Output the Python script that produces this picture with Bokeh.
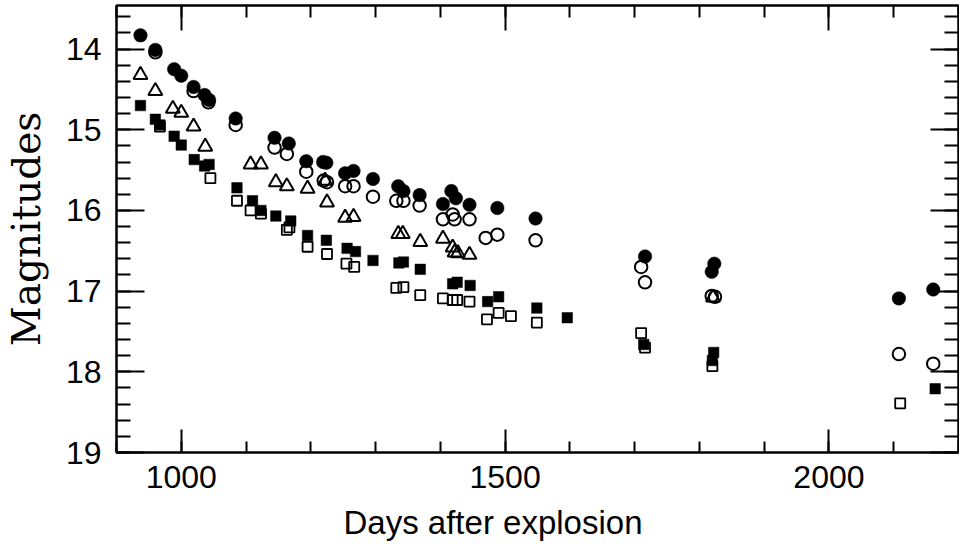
import numpy as np
from bokeh.plotting import figure
from bokeh.models import (FixedTicker, LinearAxis, Range1d, Title,
                          CustomLabelingPolicy, CustomJSTickFormatter)
from bokeh.embed import file_html
from bokeh.resources import INLINE

# ---- data ----
# filled circles
fc_day = [937, 960, 989, 1000, 1019, 1036, 1043, 1084, 1144, 1166, 1193, 1219, 1224,
          1253, 1266, 1296, 1335, 1343, 1368, 1404, 1417, 1424, 1445, 1488, 1547,
          1716, 1819, 1823, 2108, 2161]
fc_mag = [13.83, 14.01, 14.25, 14.33, 14.47, 14.57, 14.63, 14.86, 15.10, 15.17, 15.39, 15.40, 15.41,
          15.54, 15.51, 15.61, 15.70, 15.76, 15.81, 15.92, 15.76, 15.85, 15.93, 15.97, 16.10,
          16.57, 16.76, 16.66, 17.09, 16.98]
# open circles
oc_day = [960, 1019, 1042, 1084, 1144, 1163, 1193, 1220, 1225, 1253, 1266, 1296, 1332, 1343,
          1368, 1404, 1419, 1422, 1445, 1470, 1488, 1547, 1710, 1716, 1819, 1824, 2108, 2161]
oc_mag = [14.04, 14.52, 14.66, 14.94, 15.22, 15.30, 15.52, 15.63, 15.65, 15.70, 15.70, 15.83, 15.88, 15.88,
          15.94, 16.11, 16.05, 16.11, 16.11, 16.34, 16.30, 16.37, 16.70, 16.89, 17.06, 17.07, 17.78, 17.90]
# open triangles
ot_day = [937, 960, 987, 1000, 1019, 1037, 1107, 1123, 1146, 1163, 1195, 1222, 1225, 1253, 1266,
          1335, 1342, 1369, 1404, 1419, 1422, 1427, 1445, 1821]
ot_mag = [14.32, 14.52, 14.74, 14.79, 14.96, 15.21, 15.43, 15.43, 15.65, 15.70, 15.73, 15.63, 15.90, 16.09, 16.08,
          16.29, 16.29, 16.39, 16.35, 16.46, 16.52, 16.53, 16.55, 17.08]
# filled squares
fs_day = [937, 960, 967, 989, 1000, 1020, 1036, 1043, 1086, 1110, 1123, 1146, 1169, 1195, 1224,
          1256, 1269, 1296, 1336, 1343, 1369, 1419, 1426, 1446, 1473, 1490, 1549, 1596, 1714,
          1820, 1822, 2164]
fs_mag = [14.70, 14.87, 14.94, 15.08, 15.19, 15.37, 15.45, 15.43, 15.72, 15.88, 16.00, 16.07, 16.13, 16.31, 16.37,
          16.47, 16.51, 16.62, 16.65, 16.64, 16.73, 16.91, 16.89, 16.93, 17.13, 17.07, 17.21, 17.33, 17.66,
          17.86, 17.76, 18.21]
# open squares
os_day = [967, 1045, 1086, 1107, 1123, 1163, 1167, 1195, 1225, 1255, 1267, 1332, 1343, 1369, 1404,
          1419, 1426, 1445, 1472, 1490, 1509, 1549, 1710, 1716, 1820, 2110]
os_mag = [14.96, 15.60, 15.88, 16.00, 16.04, 16.24, 16.21, 16.45, 16.54, 16.66, 16.70, 16.96, 16.95, 17.05, 17.09,
          17.11, 17.11, 17.13, 17.35, 17.27, 17.31, 17.39, 17.52, 17.70, 17.93, 18.39]

x_major = [1000, 1500, 2000]
x_minor = list(range(900, 2201, 100))
y_major = [14, 15, 16, 17, 18, 19]
y_minor = [round(v, 1) for v in np.arange(13.6, 19.01, 0.2)]

p = figure(width=959, height=553, x_range=Range1d(900, 2200), y_range=Range1d(19, 13.46),
           output_backend="svg", toolbar_location=None,
           min_border_left=112, min_border_top=5, min_border_right=1, min_border_bottom=101)
p.background_fill_color = "white"
p.border_fill_color = "white"
p.outline_line_color = "black"
p.outline_line_width = 2
p.xgrid.visible = False
p.ygrid.visible = False

# open markers first, filled on top
p.scatter(oc_day, oc_mag, marker="circle", size=12.5, fill_alpha=0, line_color="black", line_width=2)
p.scatter(os_day, os_mag, marker="square", size=10, fill_alpha=0, line_color="black", line_width=1.8)
p.scatter(ot_day, ot_mag, marker="triangle", size=14, fill_alpha=0, line_color="black", line_width=2)
p.scatter(fc_day, fc_mag, marker="circle", size=13.5, fill_color="black", line_color="black", line_width=0.5)
p.scatter(fs_day, fs_mag, marker="square", size=10.5, fill_color="black", line_color="black", line_width=0.5)

def style(ax, major_in, minor_in, labels=True):
    ax.major_tick_in = major_in
    ax.major_tick_out = 0
    ax.minor_tick_in = minor_in
    ax.minor_tick_out = 0
    ax.major_tick_line_width = 2
    ax.minor_tick_line_width = 2
    ax.axis_line_width = 2
    ax.axis_line_color = "black"
    ax.major_tick_line_color = "black"
    ax.minor_tick_line_color = "black"
    if not labels:
        ax.formatter = CustomJSTickFormatter(code="return ''")
        ax.major_label_policy = CustomLabelingPolicy(
            code="return new indices.constructor(indices.size, 0)")
        ax.major_label_text_font_size = "1px"
        ax.major_label_standoff = 0

xa = p.xaxis[0]
xa.ticker = FixedTicker(ticks=x_major, minor_ticks=x_minor)
style(xa, 23, 11)
xa.major_label_text_font = "Liberation Sans"
xa.major_label_text_font_size = "32px"
xa.major_label_text_color = "black"
xa.major_label_standoff = 13

ya = p.yaxis[0]
ya.ticker = FixedTicker(ticks=y_major, minor_ticks=y_minor)
style(ya, 28, 14)
ya.major_label_text_font = "Liberation Sans"
ya.major_label_text_font_size = "32px"
ya.major_label_text_color = "black"
ya.major_label_standoff = 15
ya.axis_label = "Magnitudes"
ya.axis_label_text_font = "DejaVu Serif"
ya.axis_label_text_font_size = "39px"
ya.axis_label_text_font_style = "normal"
ya.axis_label_text_color = "black"
ya.axis_label_standoff = 14

top = LinearAxis(ticker=FixedTicker(ticks=x_major, minor_ticks=x_minor))
style(top, 25, 12, labels=False)
p.add_layout(top, "above")

right = LinearAxis(ticker=FixedTicker(ticks=y_major, minor_ticks=y_minor))
style(right, 28, 14, labels=False)
p.add_layout(right, "right")

xlabel = Title(text="Days after explosion", align="left", offset=227,
               vertical_align="bottom", standoff=22,
               text_font="Liberation Sans", text_font_size="33px",
               text_font_style="normal", text_color="black")
p.add_layout(xlabel, "below")

open("out.html", "w").write(file_html(p, INLINE))
